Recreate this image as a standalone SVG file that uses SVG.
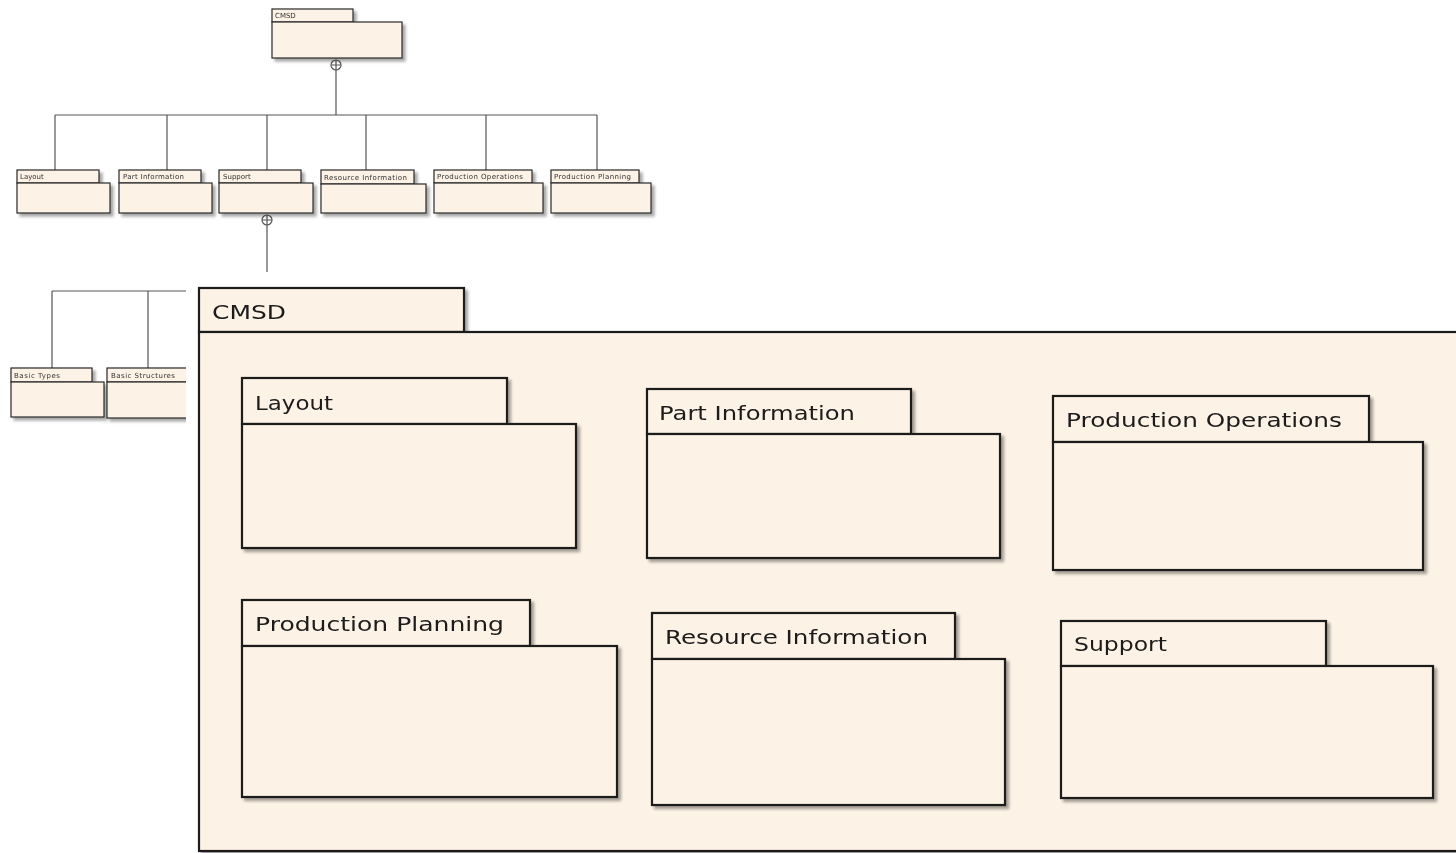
<svg xmlns="http://www.w3.org/2000/svg" width="1456" height="853" viewBox="0 0 1456 853">
  <style>
    .pk { fill: #fcf2e5; stroke: #2a2a2a; stroke-width: 1.2; }
    .pkL { fill: #fcf2e5; stroke: #1e1e1e; stroke-width: 2.2; }
    .sm { font-family: "DejaVu Sans", sans-serif; font-size: 7px; fill: #333; }
    .lg { font-family: "DejaVu Sans", sans-serif; font-size: 19.5px; fill: #1a1a1a; }
    .conn { fill: none; stroke: #555; stroke-width: 1.2; }
  </style>
  <defs>
    <filter id="shadow" x="-10%" y="-10%" width="130%" height="130%">
      <feGaussianBlur in="SourceAlpha" stdDeviation="1.5"/>
      <feOffset dx="3" dy="3" result="b"/>
      <feComponentTransfer><feFuncA type="linear" slope="0.35"/></feComponentTransfer>
      <feMerge><feMergeNode/><feMergeNode in="SourceGraphic"/></feMerge>
    </filter>
  </defs>
  <rect width="1456" height="853" fill="#ffffff"/>

  <!-- tree connectors -->
  <g id="connectors">
    <path class="conn" d="M336 70 V115 M55 115 H597 M55 115 V170 M167 115 V170 M267 115 V170 M366 115 V170 M486 115 V170 M597 115 V170"/>
    <circle cx="336" cy="65" r="5" fill="#fff" stroke="#555" stroke-width="1.2"/>
    <path class="conn" d="M331 65 H341 M336 60 V70"/>
    <path class="conn" d="M267 225 V272 M52 291 H190 M52 291 V368 M148 291 V368"/>
    <circle cx="267" cy="220" r="5" fill="#fff" stroke="#555" stroke-width="1.2"/>
    <path class="conn" d="M262 220 H272 M267 215 V225"/>
  </g>

  <!-- small tree packages -->
  <g id="cmsd-small" filter="url(#shadow)">
    <rect class="pk" x="272" y="9" width="81" height="13"/>
    <rect class="pk" x="272" y="22" width="130" height="36"/>
    <text class="sm" x="275" y="18">CMSD</text>
  </g>
  <g id="layout-small" filter="url(#shadow)">
    <rect class="pk" x="17" y="170" width="82" height="13"/>
    <rect class="pk" x="17" y="183" width="93" height="30"/>
    <text class="sm" x="20" y="179">Layout</text>
  </g>
  <g id="partinfo-small" filter="url(#shadow)">
    <rect class="pk" x="119" y="170" width="82" height="13"/>
    <rect class="pk" x="119" y="183" width="93" height="30"/>
    <text class="sm" x="123" y="179" textLength="61">Part Information</text>
  </g>
  <g id="support-small" filter="url(#shadow)">
    <rect class="pk" x="219" y="170" width="82" height="13"/>
    <rect class="pk" x="219" y="183" width="94" height="30"/>
    <text class="sm" x="223" y="179">Support</text>
  </g>
  <g id="resource-small" filter="url(#shadow)">
    <rect class="pk" x="321" y="170" width="93" height="14"/>
    <rect class="pk" x="321" y="184" width="105" height="29"/>
    <text class="sm" x="324" y="180" textLength="83">Resource Information</text>
  </g>
  <g id="prodops-small" filter="url(#shadow)">
    <rect class="pk" x="434" y="170" width="98" height="13"/>
    <rect class="pk" x="434" y="183" width="109" height="30"/>
    <text class="sm" x="437" y="179" textLength="86">Production Operations</text>
  </g>
  <g id="prodplan-small" filter="url(#shadow)">
    <rect class="pk" x="551" y="170" width="88" height="13"/>
    <rect class="pk" x="551" y="183" width="100" height="30"/>
    <text class="sm" x="554" y="179" textLength="77">Production Planning</text>
  </g>
  <g id="basictypes-small" filter="url(#shadow)">
    <rect class="pk" x="11" y="368" width="81" height="14"/>
    <rect class="pk" x="11" y="382" width="93" height="35"/>
    <text class="sm" x="14" y="378" textLength="46">Basic Types</text>
  </g>
  <g id="basicstructures-small" filter="url(#shadow)">
    <rect class="pk" x="107" y="368" width="81" height="14"/>
    <rect class="pk" x="107" y="382" width="100" height="36"/>
    <text class="sm" x="111" y="378" textLength="64">Basic Structures</text>
  </g>

  <!-- enlarged CMSD package view -->
  <rect x="186" y="272" width="1270" height="581" fill="#ffffff"/>
  <g id="cmsd" filter="url(#shadow)">
    <rect class="pkL" x="199" y="288" width="265" height="44"/>
    <rect class="pkL" x="199" y="332" width="1270" height="519"/>
    <text class="lg" x="212" y="319" textLength="74" lengthAdjust="spacingAndGlyphs">CMSD</text>
  </g>
  <g id="layout" filter="url(#shadow)">
    <rect class="pkL" x="242" y="378" width="265" height="46"/>
    <rect class="pkL" x="242" y="424" width="334" height="124"/>
    <text class="lg" x="255" y="410" textLength="78" lengthAdjust="spacingAndGlyphs">Layout</text>
  </g>
  <g id="part-information" filter="url(#shadow)">
    <rect class="pkL" x="647" y="389" width="264" height="45"/>
    <rect class="pkL" x="647" y="434" width="353" height="124"/>
    <text class="lg" x="659" y="420" textLength="196" lengthAdjust="spacingAndGlyphs">Part Information</text>
  </g>
  <g id="production-operations" filter="url(#shadow)">
    <rect class="pkL" x="1053" y="396" width="316" height="46"/>
    <rect class="pkL" x="1053" y="442" width="370" height="128"/>
    <text class="lg" x="1066" y="427" textLength="276" lengthAdjust="spacingAndGlyphs">Production Operations</text>
  </g>
  <g id="production-planning" filter="url(#shadow)">
    <rect class="pkL" x="242" y="600" width="288" height="46"/>
    <rect class="pkL" x="242" y="646" width="375" height="151"/>
    <text class="lg" x="255" y="631" textLength="249" lengthAdjust="spacingAndGlyphs">Production Planning</text>
  </g>
  <g id="resource-information" filter="url(#shadow)">
    <rect class="pkL" x="652" y="613" width="303" height="46"/>
    <rect class="pkL" x="652" y="659" width="353" height="146"/>
    <text class="lg" x="665" y="644" textLength="263" lengthAdjust="spacingAndGlyphs">Resource Information</text>
  </g>
  <g id="support" filter="url(#shadow)">
    <rect class="pkL" x="1061" y="621" width="265" height="45"/>
    <rect class="pkL" x="1061" y="666" width="372" height="132"/>
    <text class="lg" x="1074" y="651" textLength="93" lengthAdjust="spacingAndGlyphs">Support</text>
  </g>
</svg>
